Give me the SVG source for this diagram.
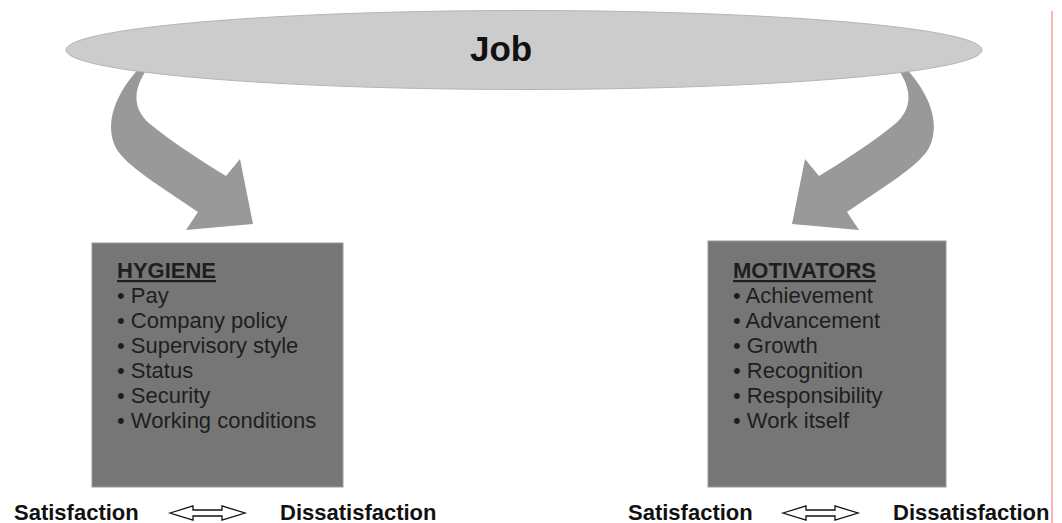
<svg xmlns="http://www.w3.org/2000/svg" width="1062" height="523" viewBox="0 0 1062 523">
  <style>
    .box { fill: #767676; stroke: #9a9a9a; stroke-width: 1; }
    .head { font-family: "Liberation Sans", Arial, sans-serif; font-size: 22px; font-weight: bold; fill: #1e1e1e; text-decoration: underline; }
    .item { font-family: "Liberation Sans", Arial, sans-serif; font-size: 22px; fill: #1e1e1e; }
    .scale { font-family: "Liberation Sans", Arial, sans-serif; font-size: 22px; font-weight: bold; fill: #111111; }
    .flow { fill: #999999; }
    .dbl { fill: #ffffff; stroke: #111111; stroke-width: 1.3; stroke-linejoin: miter; }
  </style>
  <defs>
    <!-- curved block arrow from the ellipse down to the left box -->
    <path id="bend" d="M 140,67 L 147,69 C 134,88 131,108 150,124 C 172,142 200,160 226,176 L 240,159 L 253,224 L 186,230 L 198,212 C 160,186 126,166 116,148 C 106,128 110,100 140,67 Z"/>
    <!-- hollow two-headed arrow -->
    <path id="twoway" d="M 0,0 L 23,-7 L 23,-3 L 52,-3 L 52,-7 L 75,0 L 52,7 L 52,3 L 23,3 L 23,7 Z"/>
  </defs>

  <rect width="1062" height="523" fill="#ffffff"/>

  <g id="connectors">
    <use href="#bend" class="flow"/>
    <use href="#bend" class="flow" transform="translate(1045,0) scale(-1,1)"/>
  </g>

  <g id="job">
    <ellipse cx="524" cy="50" rx="458" ry="39.5" fill="#cccccc" stroke="#b4b4b4" stroke-width="1"/>
    <text x="470" y="61" font-family="'Liberation Sans', Arial, sans-serif" font-size="35" font-weight="bold" fill="#111111">Job</text>
  </g>

  <g id="hygiene">
    <rect class="box" x="92" y="243" width="251" height="244"/>
    <text class="head" x="117" y="278">HYGIENE</text>
    <text class="item" x="117" y="303">• Pay</text>
    <text class="item" x="117" y="328">• Company policy</text>
    <text class="item" x="117" y="353">• Supervisory style</text>
    <text class="item" x="117" y="378">• Status</text>
    <text class="item" x="117" y="403">• Security</text>
    <text class="item" x="117" y="428">• Working conditions</text>
  </g>

  <g id="motivators">
    <rect class="box" x="708" y="241" width="238" height="246"/>
    <text class="head" x="733" y="278">MOTIVATORS</text>
    <text class="item" x="733" y="303">• Achievement</text>
    <text class="item" x="733" y="328">• Advancement</text>
    <text class="item" x="733" y="353">• Growth</text>
    <text class="item" x="733" y="378">• Recognition</text>
    <text class="item" x="733" y="403">• Responsibility</text>
    <text class="item" x="733" y="428">• Work itself</text>
  </g>

  <g id="scale-left">
    <text class="scale" x="14" y="520">Satisfaction</text>
    <use href="#twoway" class="dbl" transform="translate(170,513)"/>
    <text class="scale" x="280" y="520">Dissatisfaction</text>
  </g>

  <g id="scale-right">
    <text class="scale" x="628" y="520">Satisfaction</text>
    <use href="#twoway" class="dbl" transform="translate(783,513)"/>
    <text class="scale" x="893" y="520">Dissatisfaction</text>
  </g>

  <!-- margin rule -->
  <line x1="1052" y1="11" x2="1052" y2="523" stroke="#ff9a9a" stroke-width="1.5"/>
</svg>
